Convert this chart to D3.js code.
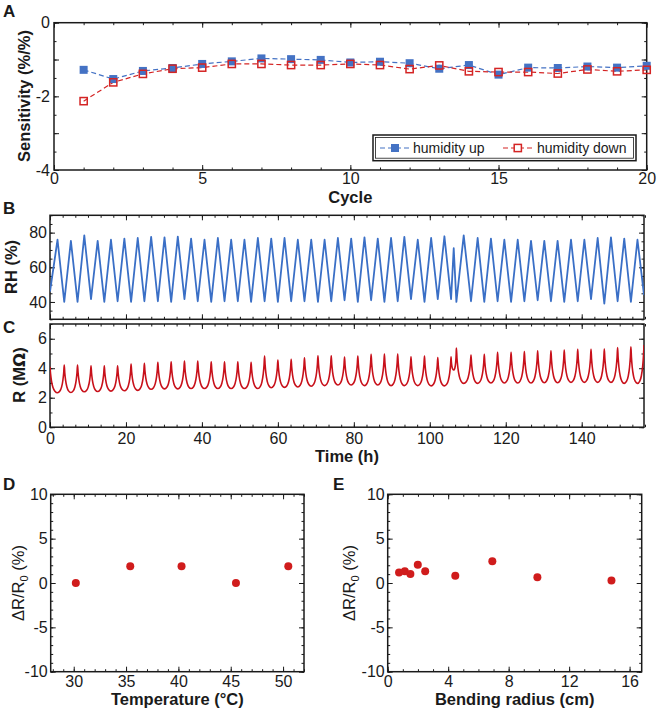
<!DOCTYPE html>
<html><head><meta charset="utf-8">
<script src="https://cdn.jsdelivr.net/npm/d3@7/dist/d3.min.js"></script>
<style>
body{margin:0;background:#fff}
text{font-family:"Liberation Sans",Arial,Helvetica,sans-serif;fill:#1a1a1a}
</style>
</head><body>
<svg id="c" width="660" height="714"></svg>
<script>
// ---------- Panel A data ----------
const cycles = [1,2,3,4,5,6,7,8,9,10,11,12,13,14,15,16,17,18,19,20];
const humidityUp = [-1.28,-1.53,-1.31,-1.23,-1.12,-1.05,-0.97,-0.99,-1.01,-1.08,-1.06,-1.10,-1.25,-1.15,-1.41,-1.22,-1.23,-1.19,-1.22,-1.17];
const humidityDown = [-2.13,-1.62,-1.39,-1.25,-1.22,-1.12,-1.12,-1.15,-1.15,-1.12,-1.15,-1.26,-1.16,-1.32,-1.34,-1.34,-1.38,-1.27,-1.32,-1.28];
const seriesNames = ["humidity up","humidity down"];
const cycleTicks = [0,5,10,15,20];
const sensTicks = [0,-2,-4];

// ---------- Panels B & C data (cycle extrema) ----------
const rPeakTimes = [0,3.75,7.25,10.8,14.3,17.8,21.35,24.85,28.4,31.9,35.4,38.9,42.45,45.95,49.45,52.95,56.5,60.0,63.5,67.0,70.55,74.05,77.55,81.05,84.55,88.05,91.55,95.05,98.6,102.1,105.6,107.0,110.85,114.35,117.85,121.4,124.9,128.4,131.9,135.4,138.95,142.45,145.95,149.45,152.95,156.4];
const rPeakVals = [4.1,4.22,4.22,4.17,4.17,4.17,4.28,4.33,4.4,4.44,4.49,4.49,4.44,4.44,4.44,4.4,4.83,4.56,4.6,4.7,4.85,4.85,4.75,4.83,4.94,4.96,4.96,4.78,4.83,4.72,4.78,5.37,4.9,4.94,5.08,5.08,5.13,5.19,5.19,5.23,5.28,5.28,5.3,5.4,5.45,5.57];
const rValleyTimes = [1.98,5.5,9.03,12.55,16.05,19.58,23.1,26.63,30.15,33.65,37.15,40.68,44.2,47.7,51.2,54.73,58.25,61.75,65.25,68.78,72.3,75.8,79.3,82.8,86.3,89.8,93.3,96.83,100.35,103.85,106.3,108.93,112.6,116.1,119.63,123.15,126.65,130.15,133.65,137.18,140.7,144.2,147.7,151.2,154.68];
const rValleyVals = [2.34,2.35,2.4,2.42,2.45,2.47,2.5,2.57,2.6,2.6,2.62,2.62,2.62,2.62,2.62,2.62,2.68,2.7,2.73,2.78,2.82,2.86,2.86,2.82,2.86,2.82,2.82,2.82,2.8,2.8,3.88,2.97,2.97,3.0,3.0,3.0,3.0,3.02,3.02,3.04,3.04,3.04,3.04,2.97,2.97];
// RH: troughs at the R peaks, peaks at the R valleys
const rhTroughVals = [46,40.0,40.0,41.6,40.0,40.4,40.0,40.4,40.4,40.0,41.6,40.4,40.0,40.4,40.4,40.0,40.4,40.0,40.4,40.4,40.0,40.4,41.0,40.0,41.0,40.0,40.4,41.6,40.0,41.6,41.6,40.0,40.4,40.0,40.4,40.0,40.4,41.0,40.4,40.0,40.4,41.6,39.0,40.4,40.0,44];
const rhPeakVals = [75.9,75.3,78.4,75.3,75.9,76.5,76.9,77.5,77.3,77.7,76.5,75.9,76.9,75.9,75.9,76.9,76.5,76.9,75.9,75.9,75.9,76.9,76.5,77.3,76.5,76.9,77.5,75.9,76.9,77.9,71,78.4,76.9,76.5,75.9,75.9,75.3,75.3,75.3,75.9,75.9,76.9,77.3,76.5,75.9];
// shape of one R half-cycle: [fraction of half period, fraction of swing]
const rFallShape = [[0,1],[0.08,0.72],[0.2,0.45],[0.4,0.2],[0.65,0.06],[1,0]];
const rRiseShape = [[0,0],[0.35,0.06],[0.6,0.2],[0.8,0.45],[0.92,0.72],[1,1]];
const timeTicks = [0,20,40,60,80,100,120,140];
const rhTicks = [40,60,80];
const rTicks = [0,2,4,6];

// ---------- Panel D / E data ----------
const temperature = [30.2,35.4,40.3,45.5,50.5];
const tempDR = [0,1.9,1.9,0,1.9];
const bendRadius = [0.75,1.13,1.5,1.99,2.48,4.47,6.92,9.9,14.8];
const bendDR = [1.17,1.32,1.02,2.07,1.32,0.83,2.45,0.64,0.27];
const tempTicks = [30,35,40,45,50];
const bendTicks = [0,4,8,12,16];
const drTicks = [-10,-5,0,5,10];

// ---------- drawing ----------
const svg = d3.select("#c");
const INK = "#1a1a1a";
const blue = "#4472c4", red = "#d42424", rhColor = "#3a6fc6", rColor = "#c8101a", dotColor = "#d01c1c";
const fmt = d => String(d);

function axes(x, y, o) {
  const g = svg.append("g");
  const [x0, x1] = x.range(), [y0, y1] = y.range(); // y0 bottom, y1 top
  const put = (tr, ax) => { const a = g.append("g").attr("transform", tr).call(ax); a.select(".domain").remove(); a.selectAll("line").attr("stroke", INK).attr("stroke-width", 1); return a; };
  put(`translate(0,${y0})`, d3.axisBottom(x).tickValues(o.xMajor).tickSize(-5).tickPadding(o.xPad ?? 4).tickFormat(o.xLabels === false ? "" : fmt));
  put(`translate(0,${y0})`, d3.axisBottom(x).tickValues(o.xMinor).tickSize(-2.5).tickFormat(""));
  put(`translate(0,${y1})`, d3.axisTop(x).tickValues(o.xMajor).tickSize(-5).tickFormat(""));
  put(`translate(0,${y1})`, d3.axisTop(x).tickValues(o.xMinor).tickSize(-2.5).tickFormat(""));
  const ly = put(`translate(${x0},0)`, d3.axisLeft(y).tickValues(o.yMajor).tickSize(-5).tickPadding(o.yPad ?? 3).tickFormat(fmt));
  put(`translate(${x0},0)`, d3.axisLeft(y).tickValues(o.yMinor).tickSize(-2.5).tickFormat(""));
  put(`translate(${x1},0)`, d3.axisRight(y).tickValues(o.yMajor).tickSize(-5).tickFormat(""));
  put(`translate(${x1},0)`, d3.axisRight(y).tickValues(o.yMinor).tickSize(-2.5).tickFormat(""));
  g.selectAll("text").attr("font-size", 16).attr("fill", INK).style("font-family", '"Liberation Sans",Arial,sans-serif');
  if (o.yHide) ly.selectAll("text").filter(d => o.yHide.includes(d)).remove();
  g.append("rect").attr("x", x0).attr("y", y1).attr("width", x1 - x0).attr("height", y0 - y1)
    .attr("fill", "none").attr("stroke", INK).attr("stroke-width", 1.5);
  return g;
}
function title(txt, x, y, rot, bold, size) {
  const t = svg.append("text").attr("font-size", size || 16.5).attr("font-weight", bold === false ? "normal" : "bold")
    .attr("text-anchor", "middle");
  if (rot) t.attr("transform", `translate(${x},${y}) rotate(-90)`); else t.attr("x", x).attr("y", y);
  if (typeof txt === "string") t.text(txt); else txt(t);
  return t;
}
function letter(l, x, y) { svg.append("text").attr("x", x).attr("y", y).attr("font-size", 17).attr("font-weight", "bold").text(l); }

// ===== Panel A =====
const xA = d3.scaleLinear().domain([0, 20]).range([54, 646.7]);
const yA = d3.scaleLinear().domain([-4, 0]).range([170, 22.7]);
axes(xA, yA, { xMajor: cycleTicks, xMinor: d3.range(0, 21, 1), yMajor: [-4,-3,-2,-1,0], yMinor: d3.range(-4, 0.01, 0.5), xPad: 3, yPad: 4,
  yHide: [-3, -1] });
const lineA = d3.line().x((d, i) => xA(cycles[i])).y(d => yA(d));
svg.append("path").attr("d", lineA(humidityUp)).attr("fill", "none").attr("stroke", blue).attr("stroke-width", 1.2).attr("stroke-dasharray", "5,3");
svg.append("path").attr("d", lineA(humidityDown)).attr("fill", "none").attr("stroke", red).attr("stroke-width", 1.2).attr("stroke-dasharray", "5,3");
svg.append("g").selectAll("rect").data(humidityUp).join("rect")
  .attr("x", (d, i) => xA(cycles[i]) - 4).attr("y", d => yA(d) - 4).attr("width", 8).attr("height", 8).attr("fill", blue);
svg.append("g").selectAll("rect").data(humidityDown).join("rect")
  .attr("x", (d, i) => xA(cycles[i]) - 3.6).attr("y", d => yA(d) - 3.6).attr("width", 7.2).attr("height", 7.2)
  .attr("fill", "none").attr("stroke", red).attr("stroke-width", 1.5);
// legend
const lg = svg.append("g");
lg.append("rect").attr("x", 373).attr("y", 135).attr("width", 263).attr("height", 25.7).attr("fill", "#fff").attr("stroke", INK).attr("stroke-width", 1.5);
lg.append("rect").attr("x", 375.5).attr("y", 137.5).attr("width", 258).attr("height", 20.7).attr("fill", "none").attr("stroke", INK).attr("stroke-width", 0.8);
lg.append("line").attr("x1", 380).attr("x2", 410).attr("y1", 148).attr("y2", 148).attr("stroke", blue).attr("stroke-width", 1.2).attr("stroke-dasharray", "5,3");
lg.append("rect").attr("x", 391).attr("y", 144).attr("width", 8).attr("height", 8).attr("fill", blue);
lg.append("text").attr("x", 413).attr("y", 153).attr("font-size", 14).text(seriesNames[0]);
lg.append("line").attr("x1", 503).attr("x2", 532).attr("y1", 148).attr("y2", 148).attr("stroke", red).attr("stroke-width", 1.2).attr("stroke-dasharray", "5,3");
lg.append("rect").attr("x", 514.2).attr("y", 144.4).attr("width", 7.2).attr("height", 7.2).attr("fill", "#fff").attr("stroke", red).attr("stroke-width", 1.5);
lg.append("text").attr("x", 537).attr("y", 153).attr("font-size", 14).text(seriesNames[1]);
title("Cycle", 350.3, 203);
title("Sensitivity (%/%)", 30, 96, true);
letter("A", 3, 17);

// ===== Panel B & C =====
const xT = d3.scaleLinear().domain([0, 156.4]).range([50, 644]);
const yB = d3.scaleLinear().domain([30, 90]).range([319.3, 215.3]);
const yC = d3.scaleLinear().domain([0, 7]).range([427.2, 324]);
const tMinor = d3.range(0, 157, 10 / 3);
axes(xT, yB, { xMajor: timeTicks, xMinor: tMinor, xLabels: false, yMajor: rhTicks, yMinor: d3.range(30, 91, 5), yPad: 3 });
axes(xT, yC, { xMajor: timeTicks, xMinor: tMinor, xPad: 5, yMajor: rTicks, yMinor: d3.range(0, 7.01, 1), yPad: 3 });
const defs = svg.append("defs");
defs.append("clipPath").attr("id", "cb").append("rect").attr("x", 50).attr("y", 215.3).attr("width", 594).attr("height", 104);
defs.append("clipPath").attr("id", "cc").append("rect").attr("x", 50).attr("y", 324).attr("width", 594).attr("height", 103.2);
// RH triangle trace
const rhPts = [];
rPeakTimes.forEach((t, i) => {
  rhPts.push([t, rhTroughVals[i]]);
  if (i < rValleyTimes.length) rhPts.push([rValleyTimes[i], rhPeakVals[i]]);
});
svg.append("path").attr("clip-path", "url(#cb)")
  .attr("d", d3.line().x(d => xT(d[0])).y(d => yB(d[1]))(rhPts))
  .attr("fill", "none").attr("stroke", rhColor).attr("stroke-width", 1.8).attr("stroke-linejoin", "round");
// R cusp trace
const rPts = [];
rPeakTimes.forEach((t, i) => {
  if (i >= rValleyTimes.length) { rPts.push([t, rPeakVals[i]]); return; }
  const tv = rValleyTimes[i], vv = rValleyVals[i], tn = rPeakTimes[i + 1], vn = rPeakVals[i + 1];
  rFallShape.forEach(([f, l], k) => { if (k < rFallShape.length - 1) rPts.push([t + f * (tv - t), vv + l * (rPeakVals[i] - vv)]); });
  rRiseShape.forEach(([f, l], k) => { if (k < rRiseShape.length - 1) rPts.push([tv + f * (tn - tv), vv + l * (vn - vv)]); });
});
svg.append("path").attr("clip-path", "url(#cc)")
  .attr("d", d3.line().x(d => xT(d[0])).y(d => yC(d[1])).curve(d3.curveMonotoneX)(rPts))
  .attr("fill", "none").attr("stroke", rColor).attr("stroke-width", 1.6).attr("stroke-linejoin", "round");
title("RH (%)", 17, 267, true);
title(t => { t.append("tspan").text("R (M"); t.append("tspan").style("font-family", '"DejaVu Sans",sans-serif').text("Ω"); t.append("tspan").text(")"); }, 25, 375, true);
title("Time (h)", 347, 462);
letter("B", 3, 214);
letter("C", 3, 333);

// ===== Panel D =====
const xD = d3.scaleLinear().domain([27.8, 52]).range([50.7, 304]);
const yD = d3.scaleLinear().domain([-10, 10]).range([671.7, 494.3]);
axes(xD, yD, { xMajor: tempTicks, xMinor: d3.range(28, 52.01, 1), xPad: 4, yMajor: drTicks, yMinor: d3.range(-10, 10.01, 1), yPad: 3 });
svg.append("g").selectAll("circle").data(tempDR).join("circle")
  .attr("cx", (d, i) => xD(temperature[i])).attr("cy", d => yD(d)).attr("r", 4).attr("fill", dotColor);
const drLabel = t => { t.append("tspan").text("ΔR/R"); t.append("tspan").attr("font-size", 11).attr("dy", 4).text("0"); t.append("tspan").attr("dy", -4).text(" (%)"); };
title(drLabel, 24, 583, true, false, 16.5);
title("Temperature (°C)", 177.3, 705);
letter("D", 3, 490);

// ===== Panel E =====
const xE = d3.scaleLinear().domain([0, 16.8]).range([387.7, 641.7]);
const yE = d3.scaleLinear().domain([-10, 10]).range([671.7, 494.3]);
axes(xE, yE, { xMajor: bendTicks, xMinor: d3.range(0, 16.81, 1), xPad: 4, yMajor: drTicks, yMinor: d3.range(-10, 10.01, 1), yPad: 3 });
svg.append("g").selectAll("circle").data(bendDR).join("circle")
  .attr("cx", (d, i) => xE(bendRadius[i])).attr("cy", d => yE(d)).attr("r", 4).attr("fill", dotColor);
title(drLabel, 355, 583, true, false, 16.5);
title("Bending radius (cm)", 514.7, 705);
letter("E", 333, 490);
</script>
</body></html>
